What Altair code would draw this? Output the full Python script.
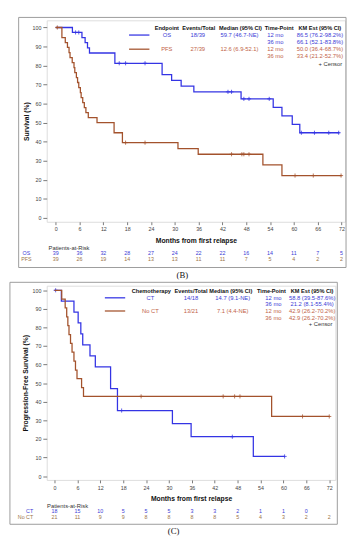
import altair as alt
import pandas as pd

FONT = "Liberation Sans"
SERIF = "Liberation Serif"
BLUE, BROWN = "#3434e4", "#a3522c"
BLUE_T, RED_T, OLIVE_T, DARK = "#3b3bd6", "#c15f47", "#9b7448", "#333333"

months = [0, 6, 12, 18, 24, 30, 36, 42, 48, 54, 60, 66, 72]
pct_ticks = [0, 10, 20, 30, 40, 50, 60, 70, 80, 90, 100]

# ---------------- (B) ----------------
os_t = [0, 4.2, 6.6, 7.4, 8.0, 8.5, 14.9, 26.8, 29.2, 31.6, 34.8, 46.7, 54.8, 57.0, 59.6, 61.5, 71.5]
os_s = [100, 97.4, 94.7, 92.0, 89.3, 86.6, 81.2, 75.2, 72.2, 69.2, 66.2, 62.5, 58.0, 53.6, 49.1, 44.7, 44.7]
os_cen_t = [5.0, 5.8, 16.0, 17.6, 22.5, 43.4, 44.3, 47.4, 48.7, 53.8, 61.9, 65.2, 68.8, 71.3]
os_cen_s = [97.4, 97.4, 81.2, 81.2, 81.2, 66.2, 66.2, 62.5, 62.5, 62.5, 44.7, 44.7, 44.7, 44.7]

pfs_t = [0, 1.55, 2.4, 2.95, 3.35, 3.6, 4.15, 4.6, 4.8, 5.2, 5.5, 5.8, 6.2, 6.4, 6.8, 7.2, 7.6, 8.2,
         10.4, 14.7, 16.8, 30.8, 35.9, 52.2, 57.0, 72.0]
pfs_s = [100, 94.7, 92.1, 89.5, 86.8, 84.2, 81.6, 78.9, 76.3, 73.7, 71.1, 68.4, 65.8, 63.2, 60.5, 57.9, 55.3, 52.6,
         50.0, 44.7, 39.5, 36.4, 33.4, 27.8, 22.2, 22.2]
pfs_cen_t = [0.4, 17.6, 22.5, 44.3, 46.9, 47.4, 48.7, 60.3, 64.9, 71.9]
pfs_cen_s = [100, 39.5, 39.5, 33.4, 33.4, 33.4, 33.4, 22.2, 22.2, 22.2]

b_header = ["Endpoint", "Events/Total", "Median (95% CI)", "Time-Point", "KM Est (95% CI)"]
b_rows = [
    ["OS", "18/39", "59.7 (46.7-NE)", "12 mo", "86.5 (76.2-98.2%)"],
    ["", "", "", "36 mo", "66.1 (52.1-83.8%)"],
    ["PFS", "27/39", "12.6 (6.9-52.1)", "12 mo", "50.0 (36.4-68.7%)"],
    ["", "", "", "36 mo", "33.4 (21.2-52.7%)"],
]
b_risk_labels = ["OS", "PFS"]
os_risk = [39, 36, 32, 28, 27, 24, 22, 22, 16, 14, 11, 7, 5]
pfs_risk = [39, 26, 19, 14, 13, 13, 11, 11, 7, 5, 4, 2, 2]

# ---------------- (C) ----------------
ct_t = [0, 1.8, 5.1, 6.2, 6.9, 7.4, 9.3, 10.7, 14.7, 16.5, 30.9, 35.8, 52.1, 60.3]
ct_s = [100, 94.1, 88.2, 82.4, 76.5, 70.6, 64.7, 58.8, 47.1, 35.3, 28.2, 21.2, 10.6, 10.6]
ct_cen_t = [0.3, 17.6, 46.6, 60.3]
ct_cen_s = [100, 35.3, 21.2, 10.6]

noct_t = [0, 1.9, 2.8, 3.2, 3.5, 3.8, 4.2, 4.6, 5.1, 5.5, 5.9, 7.1, 7.6, 56.9, 72.0]
noct_s = [100, 95.2, 90.5, 85.7, 81.0, 76.2, 71.4, 66.7, 61.9, 57.1, 52.4, 47.6, 42.9, 32.1, 32.1]
noct_cen_t = [22.7, 44.2, 47.2, 48.6, 65.0, 72.0]
noct_cen_s = [42.9, 42.9, 42.9, 42.9, 32.1, 32.1]

c_header = ["Chemotherapy", "Events/Total", "Median (95% CI)", "Time-Point", "KM Est (95% CI)"]
c_rows = [
    ["CT", "14/18", "14.7 (9.1-NE)", "12 mo", "58.8 (39.5-87.6%)"],
    ["", "", "", "36 mo", "21.2 (8.1-55.4%)"],
    ["No CT", "13/21", "7.1 (4.4-NE)", "12 mo", "42.9 (26.2-70.2%)"],
    ["", "", "", "36 mo", "42.9 (26.2-70.2%)"],
]
c_risk_labels = ["CT", "No CT"]
ct_risk = [18, 15, 10, 5, 5, 5, 3, 3, 2, 1, 1, 0]
noct_risk = [21, 11, 9, 9, 8, 8, 8, 8, 5, 4, 3, 2, 2]


def build(series, header, rows, risk_labels, risks, L):
    mx = lambda p: (p - L["ox"]) / L["sx"]
    my = lambda p: (L["oy"] - p) / L["sy"]
    XS = alt.Scale(domain=[mx(L["left"]), mx(L["right"])], nice=False, zero=False)
    YS = alt.Scale(domain=[my(L["bottom"]), my(L["top"])], nice=False, zero=False)
    xax = alt.Axis(values=months, title="Months from first relapse", grid=False, domain=False,
                   tickSize=3, tickColor="#777", labelFontSize=5.5, labelColor="#444",
                   labelPadding=2.5, labelFlush=False, labelOverlap=False, titleFontSize=7,
                   titleFontWeight="bold", titleColor="#111", titlePadding=L["xtp"],
                   labelFont=FONT, titleFont=FONT)
    yax = alt.Axis(values=pct_ticks, title=L["ytitle"], grid=False, domain=False,
                   tickSize=4, tickColor="#777", labelFontSize=5.5, labelColor="#444",
                   labelPadding=2, labelFlush=False, labelOverlap=False, titleFontSize=7,
                   titleFontWeight="bold", titleColor="#111", titlePadding=L["ytp"],
                   labelFont=FONT, titleFont=FONT)
    X = lambda f: alt.X(f, type="quantitative", scale=XS, axis=xax)
    Y = lambda f: alt.Y(f, type="quantitative", scale=YS, axis=yax)

    layers = []
    box = pd.DataFrame({"x": [mx(L["box"][0])], "x2": [mx(L["box"][2])],
                        "y": [my(L["box"][1])], "y2": [my(L["box"][3])]})
    layers.append(alt.Chart(box).mark_rect(fillOpacity=0, stroke="#9a9a9a", strokeWidth=1).encode(
        x=X("x"), x2=alt.X2("x2"), y=Y("y"), y2=alt.Y2("y2")))

    for (t, s, ctt, css, col) in series:
        df = pd.DataFrame({"x": t, "y": s})
        layers.append(alt.Chart(df).mark_line(interpolate="step-after", color=col, strokeWidth=1.3).encode(
            x=X("x"), y=Y("y")))
        cdf = pd.DataFrame({"x": ctt, "y": css})
        layers.append(alt.Chart(cdf).mark_point(shape="M-1,0H1M0,-1V1", size=18, color=col,
                                                strokeWidth=0.8, filled=False, opacity=1).encode(
            x=X("x"), y=Y("y")))

    def txt(recs, color, size=6, weight="normal", align="center", font=FONT):
        df = pd.DataFrame(recs, columns=["x", "y", "t"])
        return alt.Chart(df).mark_text(color=color, fontSize=size, fontWeight=weight, align=align,
                                       baseline="middle", font=font).encode(
            x=X("x"), y=Y("y"), text="t:N")

    layers.append(txt([(mx(cx), my(L["hdr_y"]), h) for cx, h in zip(L["hdr_cols"], header)],
                      "#111", size=5.8, weight="bold"))
    tcol = [BLUE_T, BLUE_T, RED_T, RED_T]
    for r, (ry, row) in enumerate(zip(L["rows"], rows)):
        recs = [(mx(cx), my(ry), v) for cx, v in zip(L["cols"], row) if v]
        layers.append(txt(recs, tcol[r]))
    samp = pd.DataFrame({"x": [mx(L["sample"][0])] * 2, "x2": [mx(L["sample"][1])] * 2,
                         "y": [my(L["rows"][0]), my(L["rows"][2])]})
    for i, col in enumerate([series[0][4], series[1][4]]):
        layers.append(alt.Chart(samp.iloc[[i]]).mark_rule(color=col, strokeWidth=1.3).encode(
            x=X("x"), x2=alt.X2("x2"), y=Y("y")))
    layers.append(txt([(mx(L["censor"][0]), my(L["censor"][1]), "+ Censor")], DARK, align="right"))

    layers.append(txt([(mx(L["par"][0]), my(L["par"][1]), "Patients-at-Risk")], DARK))
    rcol = [BLUE_T, OLIVE_T]
    for i, (lab, vals) in enumerate(zip(risk_labels, risks)):
        ry = my(L["risk_y"][i])
        layers.append(txt([(mx(L["risk_lab_x"]), ry, lab)], rcol[i], size=5.5, align=L["risk_lab_align"]))
        layers.append(txt([(m, ry, str(v)) for m, v in zip(months, vals)], rcol[i], size=5.5))

    cap, capx, capy = L["cap"]
    layers.append(txt([(mx(capx), my(capy), cap)], "#111", size=9, font=SERIF))

    return alt.layer(*layers).properties(width=L["right"] - L["left"], height=L["bottom"] - L["top"])


LB = dict(ox=46.3, sx=4.097, oy=214.9, sy=1.965, left=37, right=345, top=11, bottom=219,
          ytitle="Survival (%)", xtp=4, ytp=2.5,
          hdr_cols=[161, 194, 237, 277, 319], cols=[161, 193, 236, 273, 319], hdr_y=19.0,
          rows=[26.2, 33.6, 40.8, 48.2], censor=(342, 55.7), sample=(122, 143),
          par=(60, 245.8), risk_y=[251.6, 257.4], risk_lab_x=16, risk_lab_align="center",
          box=(8, 8, 346, 266.2), cap=("(B)", 177, 274.0))

LC = dict(ox=54, sx=3.94, oy=478.6, sy=1.919, left=46, right=344, top=282, bottom=482.5,
          ytitle="Progression-Free Survival (%)", xtp=4, ytp=3.3,
          hdr_cols=[154, 195, 236, 278, 320], cols=[153, 195, 238, 280, 320], hdr_y=287.6,
          rows=[294.5, 301.3, 308.1, 315.0], censor=(341, 321.8), sample=(106, 127),
          par=(67.5, 509.0), risk_y=[514.9, 520.8], risk_lab_x=32, risk_lab_align="right",
          box=(8, 278.5, 346, 528.3), cap=("(C)", 177, 535.7))

chart_b = build([(os_t, os_s, os_cen_t, os_cen_s, BLUE), (pfs_t, pfs_s, pfs_cen_t, pfs_cen_s, BROWN)],
                b_header, b_rows, b_risk_labels, [os_risk, pfs_risk], LB)
chart_c = build([(ct_t, ct_s, ct_cen_t, ct_cen_s, BLUE), (noct_t, noct_s, noct_cen_t, noct_cen_s, BROWN)],
                c_header, c_rows, c_risk_labels, [ct_risk, noct_risk], LC)

chart = alt.vconcat(chart_b, chart_c, spacing=0).properties(
    padding={"left": 0, "top": 0, "right": 0, "bottom": 0}
).configure_view(stroke="#8a8a8a", strokeWidth=1).configure(background="white")

chart.save("out.html", embed_options={"renderer": "svg", "actions": False})
